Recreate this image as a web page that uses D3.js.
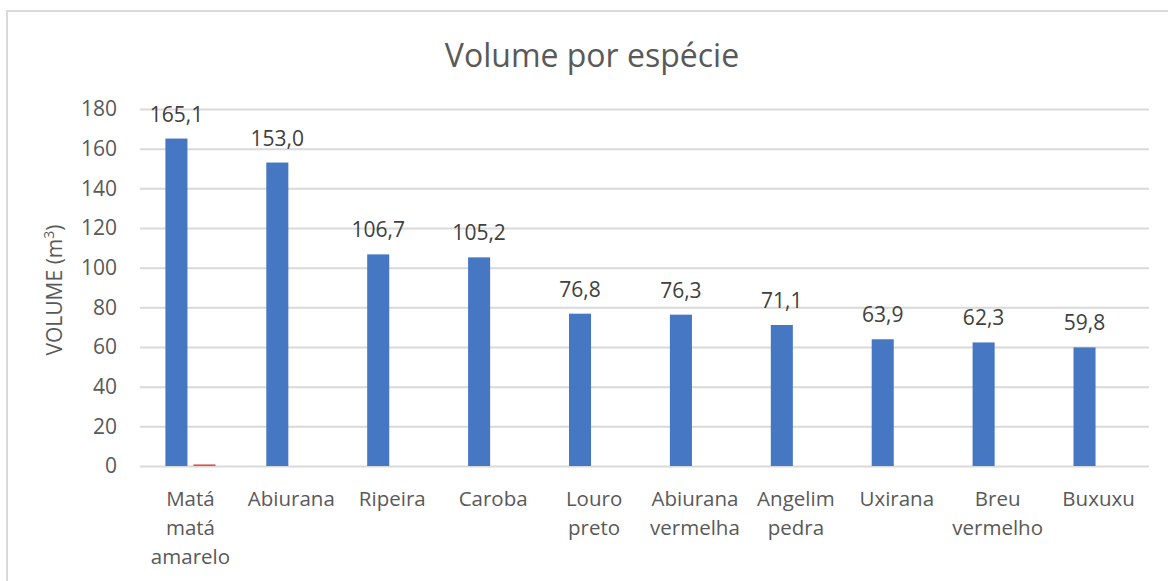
<!DOCTYPE html>
<html>
<head>
<meta charset="utf-8">
<script src="https://cdn.jsdelivr.net/npm/d3@7"></script>
<style>
  html, body { margin: 0; padding: 0; background: #ffffff; }
  svg { display: block; }
  text { font-family: "Open Sans", "Noto Sans", sans-serif; }
</style>
</head>
<body>
<svg id="chart" width="1168" height="581"></svg>
<script>
// Species (x categories), one label line per array entry
const categories = [
  ["Matá", "matá", "amarelo"],
  ["Abiurana"],
  ["Ripeira"],
  ["Caroba"],
  ["Louro", "preto"],
  ["Abiurana", "vermelha"],
  ["Angelim", "pedra"],
  ["Uxirana"],
  ["Breu", "vermelho"],
  ["Buxuxu"]
];
// Volume (m³) per species
const volumes = [165.1, 153.0, 106.7, 105.2, 76.8, 76.3, 71.1, 63.9, 62.3, 59.8];
// Secondary series, only visible on the first species
const secondary = [0.8, 0, 0, 0, 0, 0, 0, 0, 0, 0];
const yTicks = [0, 20, 40, 60, 80, 100, 120, 140, 160, 180];
const seriesKeys = ["volume", "secondary"];
const seriesColors = { volume: "#4677C2", secondary: "#E0504A" };

const svg = d3.select("#chart");
const W = 1168, H = 581;

// chart frame
svg.append("rect")
  .attr("x", 7).attr("y", 11)
  .attr("width", W + 20).attr("height", H + 20)
  .attr("fill", "#ffffff")
  .attr("stroke", "#d9d9d9").attr("stroke-width", 2);

const plot = { left: 140, right: 1149, top: 109, bottom: 466 };

const x0 = d3.scaleBand()
  .domain(d3.range(categories.length))
  .range([plot.left, plot.right])
  .paddingInner(0).paddingOuter(0);

const x1 = d3.scaleBand()
  .domain(seriesKeys)
  .range([0, x0.bandwidth()])
  .paddingInner(0.214).paddingOuter(0.905);

const y = d3.scaleLinear().domain([0, 180]).range([plot.bottom, plot.top]);

// gridlines
const yAxis = d3.axisLeft(y).tickValues(yTicks).tickSize(-(plot.right - plot.left)).tickPadding(23);
const gY = svg.append("g")
  .attr("transform", `translate(${plot.left},0)`)
  .call(yAxis);
gY.select(".domain").remove();
gY.selectAll(".tick line").attr("stroke", "#d9d9d9").attr("stroke-width", 2);
gY.selectAll(".tick text")
  .attr("fill", "#595959")
  .style("font-size", "21px");

// bars
const rows = volumes.map((v, i) => ({ i, volume: v, secondary: secondary[i] }));
const groups = svg.append("g").selectAll("g")
  .data(rows).join("g")
  .attr("transform", d => `translate(${x0(d.i)},0)`);

groups.selectAll("rect")
  .data(d => seriesKeys.map(k => ({ key: k, value: d[k] })))
  .join("rect")
  .attr("x", d => x1(d.key))
  .attr("width", x1.bandwidth())
  .attr("y", d => y(d.value))
  .attr("height", d => plot.bottom - y(d.value))
  .attr("fill", d => seriesColors[d.key]);

// value labels on the volume bars
const fmt = v => v.toFixed(1).replace(".", ",");
groups.append("text")
  .attr("x", x1("volume") + x1.bandwidth() / 2)
  .attr("y", d => y(d.volume) - 17)
  .attr("text-anchor", "middle")
  .attr("fill", "#404040")
  .style("font-size", "21px")
  .text(d => fmt(d.volume));

// category labels
const xAxis = d3.axisBottom(x0).tickSize(0).tickFormat(() => "");
const gX = svg.append("g").attr("transform", `translate(0,${plot.bottom})`).call(xAxis);
gX.select(".domain").remove();
gX.selectAll(".tick").each(function(i) {
  const t = d3.select(this).append("text")
    .attr("text-anchor", "middle")
    .attr("fill", "#595959")
    .style("font-size", "20.5px");
  categories[i].forEach((line, k) => {
    t.append("tspan").attr("x", 0).attr("y", 40 + k * 29).text(line);
  });
});

// title
svg.append("text")
  .attr("x", 592).attr("y", 67)
  .attr("text-anchor", "middle")
  .attr("fill", "#595959")
  .style("font-size", "32px")
  .text("Volume por espécie");

// y axis title
const yt = svg.append("text")
  .attr("transform", "translate(62,290) rotate(-90)")
  .attr("text-anchor", "middle")
  .attr("fill", "#595959")
  .style("font-size", "21px");
yt.append("tspan").text("VOLUME (m");
yt.append("tspan").attr("dy", -8).style("font-size", "14px").text("3");
yt.append("tspan").attr("dy", 8).text(")");
</script>
</body>
</html>
